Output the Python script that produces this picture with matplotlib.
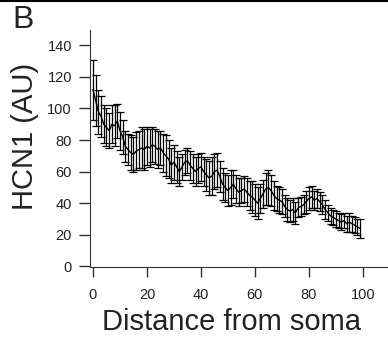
import numpy as np
import matplotlib
matplotlib.use("Agg")
import matplotlib.pyplot as plt
from matplotlib.lines import Line2D

plt.rcParams['font.family'] = ['Liberation Sans', 'DejaVu Sans']

# distancia desde el soma (0..99) y valores medidos
distancia = list(range(100))
media = [112, 105, 98, 95, 90, 88, 86, 90, 89, 92,
         86, 82, 76, 74, 72, 71, 73, 74, 75, 74,
         76, 75, 77, 76, 74, 75, 72, 70, 68, 64,
         66, 63, 60, 63, 66, 67, 64, 62, 60, 62,
         63, 60, 58, 56, 57, 60, 61, 57, 52, 50,
         48, 50, 52, 49, 47, 48, 49, 47, 45, 44,
         42, 40, 43, 46, 49, 50, 48, 45, 43, 42,
         41, 38, 36, 35, 36, 34, 37, 38, 39, 41,
         43, 44, 42, 43, 41, 39, 36, 34, 32, 31,
         30, 29, 28, 29, 27, 28, 27, 26, 25, 24]
error = [19, 16, 14, 13, 12, 12, 11, 12, 13, 11,
         12, 11, 10, 10, 11, 11, 12, 12, 13, 13,
         12, 12, 11, 11, 12, 11, 12, 13, 12, 11,
         11, 10, 9, 8, 8, 8, 9, 9, 9, 9,
         9, 9, 10, 11, 12, 11, 11, 10, 10, 9,
         10, 11, 9, 9, 9, 8, 8, 9, 9, 10,
         10, 10, 9, 9, 10, 11, 10, 9, 8, 8,
         8, 7, 7, 7, 7, 7, 6, 6, 6, 7,
         7, 7, 6, 6, 6, 6, 6, 5, 5, 5,
         5, 5, 5, 5, 5, 6, 5, 5, 5, 6]

xticks = [0, 20, 40, 60, 80, 100]
yticks = [0, 20, 40, 60, 80, 100, 120, 140]

fig = plt.figure(figsize=(3.88, 3.39), dpi=100)
ax = fig.add_axes([0.232, 0.2124, 0.768, 0.699])

ax.errorbar(distancia, media, yerr=error, color='black', lw=1.0,
            elinewidth=0.9, capsize=3, capthick=0.9)

ax.set_xlim(-1.1, 109.3)
ax.set_ylim(-0.4, 149.7)
ax.set_xticks(xticks)
ax.set_yticks(yticks)
ax.spines['top'].set_visible(False)
ax.spines['right'].set_visible(False)
ax.spines['left'].set_color('#333333')
ax.spines['bottom'].set_color('#333333')
ax.tick_params(axis='x', direction='out', length=7, width=1, pad=8,
               labelsize=10.5, colors='#333333', labelcolor='#222222')
ax.tick_params(axis='y', direction='out', length=8, width=1, pad=5,
               labelsize=10.5, colors='#333333', labelcolor='#222222')

ax.set_xlabel("Distance from soma", fontsize=21, color='#222222')
ax.set_ylabel("HCN1 (AU)", fontsize=21, color='#222222')
ax.xaxis.set_label_coords(0.475, -0.175)
ax.yaxis.set_label_coords(-0.172, 0.55)

fig.text(0.033, 0.918, "B", fontsize=23, color='#222222')
fig.add_artist(Line2D([0, 1], [0.998, 0.998], color='black', lw=1.5,
                      transform=fig.transFigure))

fig.savefig("out.png", dpi=100)
